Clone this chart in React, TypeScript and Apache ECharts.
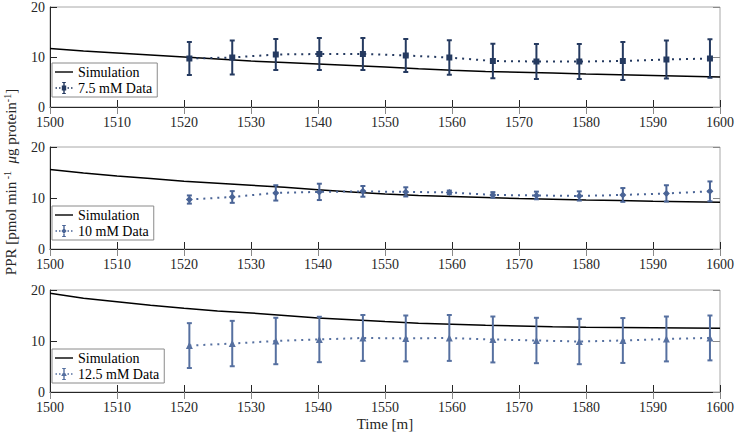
import React, { useEffect, useRef } from "react";
import * as echarts from "echarts";

const xTicks = [1500, 1600];
const dataTimes = [1520.8, 1527.2, 1533.7, 1540.2, 1546.7, 1553.1, 1559.6, 1566.1, 1572.6, 1579.0, 1585.5, 1592.0, 1598.5];

const mean75 = [9.7, 9.9, 10.5, 10.6, 10.6, 10.3, 9.9, 9.2, 9.1, 9.1, 9.2, 9.5, 9.7];
const err75 = [3.3, 3.4, 3.1, 3.2, 3.2, 3.3, 3.45, 3.45, 3.5, 3.5, 3.8, 3.8, 3.85];
const mean10 = [9.7, 10.2, 11.0, 11.2, 11.3, 11.2, 11.1, 10.6, 10.5, 10.4, 10.6, 10.9, 11.3];
const err10 = [0.8, 1.15, 1.5, 1.6, 1.05, 0.9, 0.35, 0.55, 0.75, 0.9, 1.35, 1.6, 1.95];
const mean125 = [9.1, 9.5, 10.0, 10.3, 10.6, 10.5, 10.6, 10.3, 10.1, 9.9, 10.1, 10.4, 10.6];
const err125 = [4.4, 4.45, 4.55, 4.45, 4.5, 4.5, 4.5, 4.5, 4.45, 4.45, 4.4, 4.4, 4.4];

const simTimes = [1500, 1505, 1510, 1515, 1520, 1525, 1530, 1535, 1540, 1545, 1550, 1555, 1560, 1565, 1570, 1575, 1580, 1585, 1590, 1595, 1600];
const sim75 = [11.7, 11.2, 10.8, 10.4, 10.0, 9.6, 9.2, 8.9, 8.6, 8.3, 8.0, 7.65, 7.35, 7.1, 6.95, 6.8, 6.6, 6.45, 6.3, 6.15, 6.0];
const sim10 = [15.6, 14.9, 14.3, 13.8, 13.3, 12.9, 12.5, 12.1, 11.6, 11.2, 10.8, 10.5, 10.3, 10.1, 9.9, 9.75, 9.6, 9.5, 9.35, 9.25, 9.15];
const sim125 = [19.35, 18.4, 17.7, 17.0, 16.4, 15.9, 15.5, 15.0, 14.5, 14.15, 13.8, 13.5, 13.3, 13.1, 12.95, 12.8, 12.7, 12.65, 12.6, 12.55, 12.5];

// legend icon shapes (18 x 14 box)
const ICON_LINE = "path://M0,6.3L18,6.3L18,7.7L0,7.7Z";
const errIcon = (marker: string) =>
  "path://M0,0L0.01,0L0.01,0.01Z M18,14L17.99,14L17.99,13.99Z " +
  "M0.5,6.3L2,6.3L2,7.7L0.5,7.7Z M4,6.3L5.5,6.3L5.5,7.7L4,7.7Z " +
  "M12.5,6.3L14,6.3L14,7.7L12.5,7.7Z M16,6.3L17.5,6.3L17.5,7.7L16,7.7Z " +
  "M8.3,1L9.7,1L9.7,13L8.3,13Z M7.2,1L10.8,1L10.8,2L7.2,2Z M7.2,12L10.8,12L10.8,13L7.2,13Z " +
  marker;
const MARK_SQUARE = "M6.8,4.6L11.2,4.6L11.2,9.4L6.8,9.4Z";
const MARK_DIAMOND = "M9,4L11.6,7L9,10L6.4,7Z";
const MARK_TRI = "M9,3.8L11.8,9L6.2,9Z";

const panels = [
  { name: "7.5 mM Data", mean: mean75, err: err75, sim: sim75, color: "#253a60", symbol: "rect", symbolSize: 6, icon: errIcon(MARK_SQUARE) },
  { name: "10 mM Data", mean: mean10, err: err10, sim: sim10, color: "#4a6496", symbol: "diamond", symbolSize: 7, icon: errIcon(MARK_DIAMOND) },
  { name: "12.5 mM Data", mean: mean125, err: err125, sim: sim125, color: "#5670a0", symbol: "triangle", symbolSize: 7, icon: errIcon(MARK_TRI) },
];

const FONT = "'Times New Roman', Times, 'Liberation Serif', serif";
const gridTops = [5, 147, 290];
const gridH = 102;
const legendTops = [63, 206, 349];

export default function App() {
  const ref = useRef<HTMLDivElement>(null);
  useEffect(() => {
    if (!ref.current) return;
    const chart = echarts.init(ref.current, undefined, { renderer: "svg" });
    const grid: any[] = [];
    const xAxis: any[] = [];
    const yAxis: any[] = [];
    const series: any[] = [];
    const legend: any[] = [];
    panels.forEach((p, i) => {
      grid.push({ left: 50, right: 15, top: gridTops[i], height: gridH, show: true, borderColor: "#a8a8a8", borderWidth: 1, backgroundColor: "#fff" });
      xAxis.push({
        type: "value", gridIndex: i, min: xTicks[0], max: xTicks[1], interval: 10, position: "bottom",
        axisLine: { show: true, onZero: false, lineStyle: { color: "#262626", width: 1 } },
        axisTick: { show: true, inside: true, length: 7, lineStyle: { color: "#262626" } },
        axisLabel: { show: true, color: "#262626", fontFamily: FONT, fontSize: 14, margin: 8, lineHeight: 14, formatter: (v: number) => String(v) },
        splitLine: { show: false },
        ...(i === 2 ? { name: "Time [m]", nameLocation: "middle", nameGap: 24, nameTextStyle: { color: "#262626", fontFamily: FONT, fontSize: 15 } } : {}),
      });
      xAxis.push({
        type: "value", gridIndex: i, min: xTicks[0], max: xTicks[1], interval: 10, position: "top",
        axisLine: { show: false }, axisTick: { show: true, inside: true, length: 7, lineStyle: { color: "#8a8a8a" } },
        axisLabel: { show: false }, splitLine: { show: false },
      });
      yAxis.push({
        type: "value", gridIndex: i, min: 0, max: 20, interval: 10, position: "left",
        axisLine: { show: true, onZero: false, lineStyle: { color: "#262626", width: 1 } },
        axisTick: { show: true, inside: true, length: 7, lineStyle: { color: "#262626" } },
        axisLabel: { show: true, color: "#262626", fontFamily: FONT, fontSize: 14, margin: 5, lineHeight: 13 },
        splitLine: { show: false },
      });
      yAxis.push({
        type: "value", gridIndex: i, min: 0, max: 20, interval: 10, position: "right",
        axisLine: { show: false }, axisTick: { show: true, inside: true, length: 7, lineStyle: { color: "#8a8a8a" } },
        axisLabel: { show: false }, splitLine: { show: false },
      });
      const xa = i * 2, ya = i * 2;
      series.push({
        type: "line", name: "Simulation", xAxisIndex: xa, yAxisIndex: ya,
        data: simTimes.map((t, k) => [t, p.sim[k]]), showSymbol: false, symbol: "none",
        lineStyle: { color: "#000", width: 1.5 }, itemStyle: { color: "#000" }, z: 3,
      });
      const c = p.color;
      series.push({
        type: "custom", name: p.name + " err", xAxisIndex: xa, yAxisIndex: ya, z: 4,
        data: dataTimes.map((t, k) => [t, p.mean[k] - p.err[k], p.mean[k] + p.err[k]]),
        encode: { x: 0, y: [1, 2] },
        renderItem: (params: any, api: any) => {
          const x = api.value(0), lo = api.value(1), hi = api.value(2);
          const a = api.coord([x, hi]);
          const b = api.coord([x, lo]);
          const hw = 2.5;
          const st = { stroke: c, lineWidth: 2 };
          return {
            type: "group",
            children: [
              { type: "line", shape: { x1: a[0], y1: a[1], x2: b[0], y2: b[1] }, style: st },
              { type: "line", shape: { x1: a[0] - hw, y1: a[1], x2: a[0] + hw, y2: a[1] }, style: st },
              { type: "line", shape: { x1: b[0] - hw, y1: b[1], x2: b[0] + hw, y2: b[1] }, style: st },
            ],
          };
        },
      });
      series.push({
        type: "line", name: p.name, xAxisIndex: xa, yAxisIndex: ya, z: 5,
        data: dataTimes.map((t, k) => [t, p.mean[k]]),
        symbol: p.symbol, symbolSize: p.symbolSize, showSymbol: true,
        lineStyle: { color: c, width: 2, type: [2, 5] }, itemStyle: { color: c },
      });
      legend.push({
        orient: "vertical", left: 52, top: legendTops[i],
        data: [{ name: "Simulation", icon: ICON_LINE }, { name: p.name, icon: p.icon }],
        backgroundColor: "#fff", borderColor: "#8a8a8a", borderWidth: 1, borderRadius: 0,
        padding: [2, 5, 2, 3], itemGap: 2, itemWidth: 18, itemHeight: 14,
        textStyle: { color: "#000", fontFamily: FONT, fontSize: 14 },
        selectedMode: false,
      });
    });
    chart.setOption({
      animation: false,
      backgroundColor: "#fff",
      grid, xAxis, yAxis, series, legend,
      graphic: [
        {
          type: "text", x: 11, y: 182, rotation: Math.PI / 2, originX: 0, originY: 0,
          style: {
            text: "{a|PPR [pmol min}{s| -1}{a|  }{i|μ}{a|g protein}{s|-1}{a|]}",
            x: 0, y: 0, align: "center", verticalAlign: "middle",
            rich: {
              a: { fontFamily: FONT, fontSize: 15, fill: "#262626" },
              i: { fontFamily: FONT, fontSize: 15, fontStyle: "italic", fill: "#262626" },
              s: { fontFamily: FONT, fontSize: 10, fill: "#262626", verticalAlign: "top", padding: [0, 0, 8, 0] },
            },
          },
        },
      ],
    });
    return () => chart.dispose();
  }, []);
  return <div ref={ref} style={{ width: 737, height: 434, position: "absolute", left: 0, top: 0 }} />;
}
